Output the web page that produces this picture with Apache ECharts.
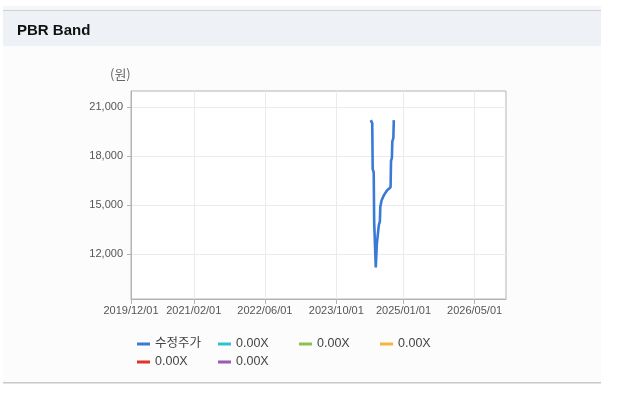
<!DOCTYPE html>
<html>
<head>
<meta charset="utf-8">
<script src="https://cdn.jsdelivr.net/npm/echarts@6/dist/echarts.min.js"></script>
<style>
html,body{margin:0;padding:0;background:#fff;}
#c{width:617px;height:397px;}
</style>
</head>
<body>
<div id="c"></div>
<script>
// ---- data ----
var priceDates = ['2024-05-23','2024-05-27','2024-06-02','2024-06-05','2024-06-12','2024-06-15','2024-06-22','2024-06-26','2024-06-30','2024-07-03','2024-07-10','2024-07-17','2024-07-24','2024-07-27','2024-08-05','2024-08-20','2024-09-10','2024-10-05','2024-10-08','2024-10-14','2024-10-17','2024-10-24','2024-10-27'];
var priceValues = [20200,20100,20000,17200,17000,14000,13900,11200,11100,12600,12500,13800,14000,14900,15300,15600,15900,16100,17700,17900,18900,19100,20200];
var seriesIds = ['price','band1','band2','band3','band4','band5'];
var seriesLabels = ['수정주가','0.00X','0.00X','0.00X','0.00X','0.00X'];
var seriesColors = ['#3a7ad6','#2fc2d1','#8cc152','#f5b43c','#e3312d','#9b59b6'];
var xTickLabels = ['2019/12/01','2021/02/01','2022/06/01','2023/10/01','2025/01/01','2026/05/01'];
var yTickValues = [12000,15000,18000,21000];
var xMinLabel = '2019/12/01', xMaxLabel = '2026/12/01';
var yMin = 9264, yMax = 21979;

function toTs(s){ var p = s.split(/[-\/]/); return new Date(+p[0], +p[1]-1, +p[2]).getTime(); }
function pad(n){ return (n<10?'0':'')+n; }
function fmtDate(v){ var d = new Date(v); return d.getFullYear()+'/'+pad(d.getMonth()+1)+'/'+pad(d.getDate()); }
function fmtNum(v){ return String(Math.round(v)).replace(/\B(?=(\d{3})+(?!\d))/g, ','); }

var xTicks = xTickLabels.map(toTs);
var priceData = priceDates.map(function(d,i){ return [toTs(d), priceValues[i]]; });

var series = seriesIds.map(function(n,i){
  return {
    name: n, type: 'line', showSymbol: false, symbol: 'none',
    data: i === 0 ? priceData : [],
    lineStyle: {width: 2.6, color: seriesColors[i]},
    itemStyle: {color: seriesColors[i]},
    animation: false
  };
});

var chart = echarts.init(document.getElementById('c'), null, {renderer: 'canvas'});
chart.setOption({
  animation: false,
  backgroundColor: '#ffffff',
  graphic: [
    {type:'rect', shape:{x:3,y:6,width:598,height:4}, style:{fill:'#f6f6f6'}, z:-10},
    {type:'rect', shape:{x:3,y:10,width:598,height:372}, style:{fill:'#fcfcfc'}, z:-10},
    {type:'rect', shape:{x:3,y:10,width:598,height:36}, style:{fill:'#eef2f7'}, z:-9},
    {type:'rect', shape:{x:3,y:10,width:598,height:1}, style:{fill:'#cdd1d6'}, z:-8},
    {type:'rect', shape:{x:3,y:382,width:598,height:1.5}, style:{fill:'#c8c8c8'}, z:-8},
    {type:'rect', shape:{x:131,y:91,width:375,height:208}, style:{fill:'#ffffff'}, z:-7},
    {type:'text', left:110, top:68, style:{text:'(원)', fill:'#666', font:'13px "Noto Sans CJK KR", sans-serif'}}
  ],
  title: {
    text: 'PBR Band', left: 17, top: 23, padding: 0,
    textStyle: {fontSize: 15, fontWeight: 'bold', color: '#111', fontFamily: 'Liberation Sans, Arial, sans-serif'}
  },
  grid: {left: 131, top: 91, width: 375, height: 208, show: true, borderColor: '#b4b4b4', borderWidth: 1, backgroundColor: 'transparent'},
  legend: {
    left: 137, top: 337, width: 330, padding: 0,
    itemWidth: 13, itemHeight: 3, itemGap: 4,
    icon: 'rect',
    data: seriesIds,
    selectedMode: false,
    formatter: function(n){ return seriesLabels[seriesIds.indexOf(n)]; },
    textStyle: {fontSize: 12.5, color: '#444', width: 59, lineHeight: 14, fontFamily: 'Liberation Sans, "Noto Sans CJK KR", sans-serif'}
  },
  xAxis: {
    type: 'value',
    min: toTs(xMinLabel), max: toTs(xMaxLabel),
    axisLine: {show: true, lineStyle: {color: '#b4b4b4'}},
    axisTick: {show: true, length: 5, lineStyle: {color: '#b4b4b4'}, customValues: xTicks},
    axisLabel: {customValues: xTicks, formatter: fmtDate, color: '#555', fontSize: 11, margin: 6, fontFamily: 'Liberation Sans, Arial, sans-serif'},
    splitLine: {show: true, lineStyle: {color: '#ebebeb'}}
  },
  yAxis: {
    type: 'value',
    min: yMin, max: yMax,
    axisLine: {show: true, lineStyle: {color: '#b4b4b4'}},
    axisTick: {show: true, length: 4, lineStyle: {color: '#b4b4b4'}, customValues: yTickValues},
    axisLabel: {customValues: yTickValues, formatter: fmtNum, color: '#555', fontSize: 11, margin: 8, fontFamily: 'Liberation Sans, Arial, sans-serif'},
    splitLine: {show: true, lineStyle: {color: '#ebebeb'}}
  },
  series: series
});
</script>
</body>
</html>
